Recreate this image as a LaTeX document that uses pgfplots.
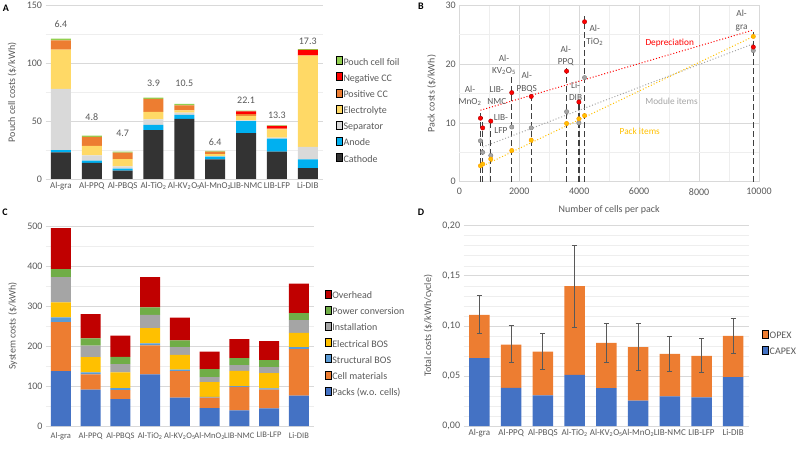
\documentclass[border=0pt]{standalone}
\usepackage{pgfplots}
\pgfplotsset{compat=1.18}
\usepackage{fontspec}
\setmainfont{Carlito}
\definecolor{txt}{HTML}{595959}
\definecolor{gmaj}{HTML}{D9D9D9}
\definecolor{gmin}{HTML}{EEEEEE}
\definecolor{cCath}{HTML}{333333}
\definecolor{cAnode}{HTML}{00B0F0}
\definecolor{cSep}{HTML}{D9D9D9}
\definecolor{cElec}{HTML}{FFD966}
\definecolor{cPos}{HTML}{ED7D31}
\definecolor{cNeg}{HTML}{FF0000}
\definecolor{cPouch}{HTML}{92D050}
\definecolor{cPack}{HTML}{4472C4}
\definecolor{cCell}{HTML}{ED7D31}
\definecolor{cStruct}{HTML}{5B9BD5}
\definecolor{cElBOS}{HTML}{FFC000}
\definecolor{cInst}{HTML}{A5A5A5}
\definecolor{cPow}{HTML}{70AD47}
\definecolor{cOver}{HTML}{C00000}
\definecolor{cDep}{HTML}{FF0000}
\definecolor{cMod}{HTML}{A5A5A5}
\definecolor{cPi}{HTML}{FFC000}
\definecolor{dl}{HTML}{404040}
\definecolor{ebc}{HTML}{595959}
\newcommand{\fs}{\fontsize{10}{12}\selectfont}
\newcommand{\fx}{\fontsize{9}{11}\selectfont}
\newcommand{\fxc}{\fontsize{8.5}{10.5}\selectfont}
\newcommand{\fss}{\fontsize{9.3}{12.3}\selectfont}
\pgfplotsset{
  base/.style={
    scale only axis,
    axis line style={draw=none},
    major tick length=0pt, minor tick length=0pt,
    tick style={draw=none},
    ymajorgrids, yminorgrids,
    major grid style={gmaj, line width=0.6pt},
    minor grid style={gmin, line width=0.5pt},
    tick label style={font=\fs, text=txt},
    label style={font=\fs, text=txt},
    /pgf/number format/assume math mode=true,
    legend cell align=left,
  },
  sq/.style={legend image code/.code={\draw[##1,draw=none] (0pt,-3pt) rectangle (6pt,3pt);}},
  leg/.style={legend style={draw=none, fill=none, font=\fs, text=txt, row sep=4.8pt,
     nodes={inner sep=1pt}}},
  cats/.style={xtick={0,...,8}, xticklabel style={font=\fx},
     xticklabels={Al-gra, Al-PPQ, Al-PBQS, Al-TiO\textsubscript{2}, Al-KV\textsubscript{2}O\textsubscript{5}, Al-MnO\textsubscript{2}, LIB-NMC, LIB-LFP, Li-DIB}},
}
\begin{document}
\begin{tikzpicture}
\path[use as bounding box] (0,0) rectangle (800pt,450pt);
% ---------------- Panel A
\begin{axis}[base, sq, leg, cats,
  at={(45.5pt,271pt)}, anchor=south west, width=277.7pt, height=173.3pt,
  ybar stacked, bar width=20pt,
  xmin=-0.5, xmax=8.5, ymin=0, ymax=150,
  ytick={0,50,100,150}, minor ytick={25,75,125},
  ylabel={Pouch cell costs (\$/kWh)},
  ylabel style={at={(axis description cs:-0.12,0.5)}, anchor=center},
  reverse legend,
  legend style={at={(1.035,0.396)}, anchor=west},
]
\addplot[fill=cCath, draw=none] coordinates {(0,23.1) (1,14) (2,7.2) (3,42.4) (4,52) (5,17) (6,39.8) (7,23.6) (8,9.5)};
\addplot[fill=cAnode, draw=none] coordinates {(0,1.9) (1,2) (2,1.8) (3,4.4) (4,3.4) (5,2.3) (6,10.4) (7,11.3) (8,7.5)};
\addplot[fill=cSep, draw=none] coordinates {(0,53) (1,4.5) (2,2) (3,4.9) (4,2) (5,0.5) (6,0.5) (7,0.9) (8,10.7)};
\addplot[fill=cElec, draw=none] coordinates {(0,34) (1,8.1) (2,6.3) (3,6.3) (4,2.1) (5,1.7) (6,4) (7,7.2) (8,79.1)};
\addplot[fill=cPos, draw=none] coordinates {(0,8) (1,7.8) (2,5.5) (3,11.3) (4,4.3) (5,2.1) (6,1.5) (7,0.6) (8,0.2)};
\addplot[fill=cNeg, draw=none] coordinates {(0,0) (1,0) (2,0) (3,0) (4,0) (5,0) (6,2.3) (7,2.3) (8,4.7)};
\addplot[fill=cPouch, draw=none] coordinates {(0,1.5) (1,1.1) (2,0.8) (3,1.1) (4,1.2) (5,0.8) (6,0.6) (7,0.6) (8,0.8)};
\legend{Cathode, Anode, Separator, Electrolyte, Positive CC, Negative CC, Pouch cell foil}
\node[font=\fs, text=txt] at (axis cs:0,134) {6.4};
\node[font=\fs, text=txt] at (axis cs:1,53.4) {4.8};
\node[font=\fs, text=txt] at (axis cs:2,39.5) {4.7};
\node[font=\fs, text=txt] at (axis cs:3,82.8) {3.9};
\node[font=\fs, text=txt] at (axis cs:4,82.8) {10.5};
\node[font=\fs, text=txt] at (axis cs:5,31.8) {6.4};
\node[font=\fs, text=txt] at (axis cs:6,68.4) {22.1};
\node[font=\fs, text=txt] at (axis cs:7,55.4) {13.3};
\node[font=\fs, text=txt] at (axis cs:8,118.9) {17.3};
\end{axis}
% ---------------- Panel B
\begin{axis}[base,
  at={(459.3pt,268.3pt)}, anchor=south west, width=299.7pt, height=176.4pt,
  xmin=0, xmax=10000, ymin=0, ymax=30,
  xtick={0,2000,4000,6000,8000,10000}, minor xtick={1000,3000,5000,7000,9000},
  ytick={0,10,20,30}, minor ytick={5,15,25},
  xmajorgrids, xminorgrids,
  scaled x ticks=false, xticklabel style={/pgf/number format/1000 sep={}, yshift=-3pt},
  xlabel={Number of cells per pack},
  xlabel style={at={(axis description cs:0.5,-0.16)}, anchor=center},
  ylabel={Pack costs (\$/kWh)},
  ylabel style={at={(axis description cs:-0.092,0.5)}, anchor=center},
]
\addplot[dl, line width=1.3pt, dash pattern=on 6pt off 3pt] coordinates {(705,0) (705,12.1)};
\addplot[dl, line width=1.3pt, dash pattern=on 6pt off 3pt] coordinates {(780,0) (780,11)};
\addplot[dl, line width=1.3pt, dash pattern=on 6pt off 3pt] coordinates {(1050,0) (1050,10.4)};
\addplot[dl, line width=1.3pt, dash pattern=on 6pt off 3pt] coordinates {(1750,0) (1750,17.8)};
\addplot[dl, line width=1.3pt, dash pattern=on 6pt off 3pt] coordinates {(2400,0) (2400,14.7)};
\addplot[dl, line width=1.3pt, dash pattern=on 6pt off 3pt] coordinates {(3580,0) (3580,19.5)};
\addplot[dl, line width=1.3pt, dash pattern=on 6pt off 3pt] coordinates {(3990,0) (3990,13.8)};
\addplot[dl, line width=1.3pt, dash pattern=on 6pt off 3pt] coordinates {(4180,0) (4180,28.2)};
\addplot[dl, line width=1.3pt, dash pattern=on 6pt off 3pt] coordinates {(9810,0) (9810,25.7)};
\addplot[cDep, line width=1pt, dotted] coordinates {(705,12.15) (9810,25.8)};
\addplot[cMod, line width=1pt, dotted] coordinates {(780,5.9) (9810,23.45)};
\addplot[cPi, line width=1pt, dotted] coordinates {(705,2.5) (9810,24.7)};
\addplot[only marks, mark=*, mark size=2.2pt, mark options={fill=cMod, draw=gray}] coordinates {(705,6.95) (780,5.0) (1050,4.45) (1750,9.3) (2400,9.15) (3580,11.9) (3990,10.0) (4180,17.7) (9810,22.3)};
\addplot[only marks, mark=*, mark size=2.2pt, mark options={fill=cPi, draw=orange!80!yellow}] coordinates {(705,2.7) (780,3.0) (1050,3.85) (1750,5.3) (2400,7.07) (3580,9.9) (3990,10.7) (4180,11.25) (9810,24.7)};
\addplot[only marks, mark=*, mark size=2.2pt, mark options={fill=cDep, draw=red!70!black}] coordinates {(705,10.8) (780,9.15) (1050,10.3) (1750,15.15) (2400,14.5) (3580,18.8) (3990,13.55) (4180,27.2) (9810,22.9)};
\node[font=\fss, text=txt, align=center] at (axis cs:357,14.6) {Al-\\MnO\textsubscript{2}};
\node[font=\fss, text=txt, align=center] at (axis cs:1250,14.6) {LIB-\\NMC};
\node[font=\fss, text=txt, align=center] at (axis cs:1390,9.8) {LIB-\\LFP};
\node[font=\fss, text=txt, align=center] at (axis cs:1490,19.9) {Al-\\KV\textsubscript{2}O\textsubscript{5}};
\node[font=\fss, text=txt, align=center] at (axis cs:2250,16.9) {Al-\\PBQS};
\node[font=\fss, text=txt, align=center] at (axis cs:3550,21.4) {Al-\\PPQ};
\node[font=\fss, text=txt, align=center] at (axis cs:3880,15.4) {Li-\\DIB};
\node[font=\fss, text=txt, align=center] at (axis cs:4520,24.9) {Al-\\TiO\textsubscript{2}};
\node[font=\fss, text=txt, align=center] at (axis cs:9420,27.4) {Al-\\gra};
\node[font=\fss, text=cDep] at (axis cs:7020,23.6) {Depreciation};
\node[font=\fss, text=cMod] at (axis cs:7080,13.6) {Module items};
\node[font=\fss, text=cPi] at (axis cs:6020,8.6) {Pack items};
\end{axis}
% ---------------- Panel C
\begin{axis}[base, sq, leg, cats,
  at={(46pt,24pt)}, anchor=south west, width=267.7pt, height=200pt,
  ybar stacked, bar width=20pt,
  xmin=-0.5, xmax=8.5, ymin=0, ymax=500,
  ytick={0,100,...,500}, minor ytick={50,150,...,450},
  xticklabel style={yshift=-3pt, font=\fxc},
  ylabel={System costs (\$/kWh)},
  ylabel style={at={(axis description cs:-0.124,0.5)}, anchor=center},
  reverse legend,
  legend style={at={(1.03,0.41)}, anchor=west},
]
\addplot[fill=cPack, draw=none] coordinates {(0,137.5) (1,90.8) (2,67.5) (3,129) (4,71) (5,45) (6,39) (7,44) (8,76)};
\addplot[fill=cCell, draw=none] coordinates {(0,122.5) (1,38.2) (2,22.5) (3,72.7) (4,66) (5,26) (6,59) (7,47) (8,116)};
\addplot[fill=cStruct, draw=none] coordinates {(0,11.7) (1,5) (2,5) (3,5) (4,4) (5,2) (6,2) (7,3) (8,5)};
\addplot[fill=cElBOS, draw=none] coordinates {(0,37.3) (1,38.5) (2,39) (3,38.3) (4,37) (5,37) (6,38) (7,38.5) (8,36)};
\addplot[fill=cInst, draw=none] coordinates {(0,63.5) (1,28.5) (2,21) (3,33) (4,19) (5,12.5) (6,14) (7,14.5) (8,32)};
\addplot[fill=cPow, draw=none] coordinates {(0,20) (1,18) (2,18) (3,18.7) (4,17) (5,20) (6,18) (7,18) (8,17)};
\addplot[fill=cOver, draw=none] coordinates {(0,102.5) (1,61) (2,53) (3,75.8) (4,57) (5,43.5) (6,47.5) (7,47.5) (8,74)};
\legend{Packs (w.o. cells), Cell materials, Structural BOS, Electrical BOS, Installation, Power conversion, Overhead}
\end{axis}
% ---------------- Panel D
\begin{axis}[base, sq, leg, cats,
  at={(463.6pt,24pt)}, anchor=south west, width=285.5pt, height=200.3pt,
  ybar stacked, bar width=20.5pt,
  xmin=-0.5, xmax=8.5, ymin=0, ymax=0.2,
  ytick={0,0.05,0.1,0.15,0.2},
  minor ytick={0.01,0.02,0.03,0.04,0.06,0.07,0.08,0.09,0.11,0.12,0.13,0.14,0.16,0.17,0.18,0.19},
  scaled y ticks=false,
  yticklabel style={/pgf/number format/.cd, fixed, fixed zerofill, precision=2, use comma},
  ylabel={Total costs (\$/kWh/cycle)},
  ylabel style={at={(axis description cs:-0.124,0.5)}, anchor=center},
  reverse legend,
  legend style={at={(1.035,0.41)}, anchor=west},
]
\addplot[fill=cPack, draw=none] coordinates {(0,0.0677) (1,0.038) (2,0.0307) (3,0.051) (4,0.0377) (5,0.0253) (6,0.0297) (7,0.0287) (8,0.0487)};
\addplot[fill=cCell, draw=none] coordinates {(0,0.0433) (1,0.0433) (2,0.0436) (3,0.0887) (4,0.0453) (5,0.0534) (6,0.0423) (7,0.0413) (8,0.0413)};
\legend{CAPEX, OPEX}
\end{axis}
\begin{axis}[scale only axis, hide axis,
  at={(463.6pt,24pt)}, anchor=south west, width=285.5pt, height=200.3pt,
  xmin=-0.5, xmax=8.5, ymin=0, ymax=0.2]
\addplot[draw=none, mark=none,
  error bars/.cd, y dir=both, y explicit,
  error bar style={draw=ebc, solid, line width=0.9pt},
  error mark options={draw=ebc, mark size=2.5pt, line width=0.9pt, rotate=90}]
  coordinates {
  (0,0.111) += (0,0.019) -= (0,0.0183)
  (1,0.0813) += (0,0.0187) -= (0,0.0176)
  (2,0.0743) += (0,0.0184) -= (0,0.0183)
  (3,0.1397) += (0,0.0403) -= (0,0.041)
  (4,0.083) += (0,0.019) -= (0,0.0193)
  (5,0.0787) += (0,0.024) -= (0,0.0234)
  (6,0.072) += (0,0.0173) -= (0,0.0177)
  (7,0.07) += (0,0.0173) -= (0,0.017)
  (8,0.09) += (0,0.017) -= (0,0.0173)
  };
\end{axis}
% panel letters
\node[font=\bfseries\fontsize{10}{12}\selectfont] at (6pt,442pt) {A};
\node[font=\bfseries\fontsize{10}{12}\selectfont] at (421pt,444pt) {B};
\node[font=\bfseries\fontsize{10}{12}\selectfont] at (5pt,238pt) {C};
\node[font=\bfseries\fontsize{10}{12}\selectfont] at (421pt,238pt) {D};
\end{tikzpicture}
\end{document}
